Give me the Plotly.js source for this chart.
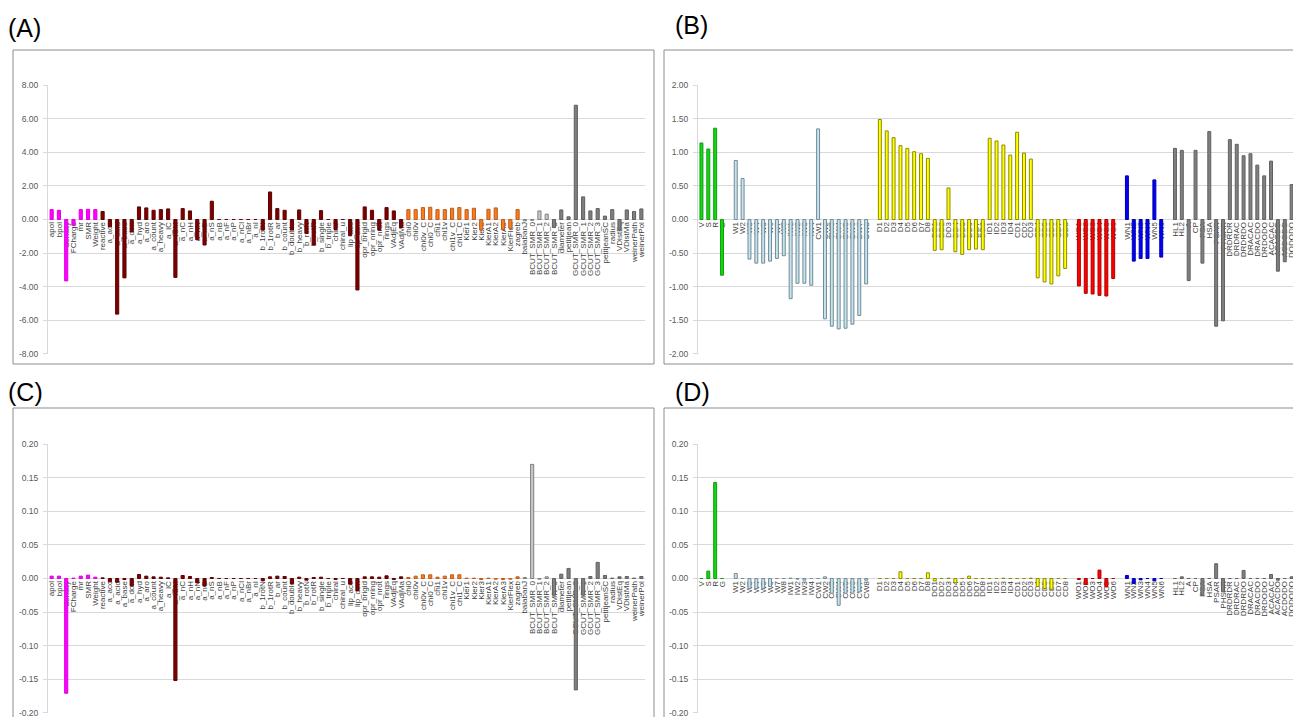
<!DOCTYPE html>
<html><head><meta charset="utf-8">
<script src="https://cdn.plot.ly/plotly-3.0.1.min.js"></script>
<style>html,body{margin:0;padding:0;background:#fff}#chart{width:1293px;height:717px}</style>
</head><body><div id="chart"></div>
<script>
// ---------- Panels A / C : descriptor groups ----------
const catsPhys = ['apol','bpol','density','FCharge','mr','SMR','Weight'];
const catsAtom = ['reactive','a_acc','a_acid','a_base','a_don','a_hyd','a_aro','a_count','a_heavy','a_IC','a_ICM','a_nC','a_nH','a_nN','a_nO','a_nS','a_nB','a_nF','a_nP','a_nCl','a_nBr','a_nI','b_1rotN','b_1rotR','b_ar','b_count','b_double','b_heavy','b_rotN','b_rotR','b_single','b_triple','chiral','chiral_u','lip_acc','lip_don','opr_brigid','opr_nring','opr_nrot','rings','VAdjEq','VAdjMa'];
const catsConn = ['chi0','chi0v','chi0v_C','chi0_C','chi1','chi1v','chi1v_C','chi1_C','Kier1','Kier2','Kier3','KierA1','KierA2','KierA3','KierFlex','zagreb'];
const catsTopoLight = ['balabanJ','BCUT_SMR_0','BCUT_SMR_1','BCUT_SMR_2'];
const catsTopo = ['BCUT_SMR_3','diameter','petitjean','GCUT_SMR_0','GCUT_SMR_1','GCUT_SMR_2','GCUT_SMR_3','petitjeanSC','radius','VDistEq','VDistMa','weinerPath','weinerPol'];

const valsA_phys = [0.59,0.55,-3.66,-0.34,0.59,0.61,0.59];
const valsA_atom = [0.48,-0.44,-5.64,-3.48,-0.73,0.75,0.69,0.55,0.59,0.63,-3.45,0.65,0.51,-1.20,-1.52,1.09,0,0,0,0,0,0,-0.63,1.64,0.65,0.55,-0.63,0.57,-0.83,-1.52,0.53,0,-0.60,0,-0.97,-4.20,0.75,0.55,-0.63,0.71,0.51,-0.48];
const valsA_conn = [0.59,0.59,0.71,0.73,0.59,0.59,0.67,0.71,0.59,0.67,-0.63,0.61,0.69,-0.60,-0.53,0.59];
const valsA_topoLight = [-0.08,-0.05,0.51,0.32];
const valsA_topo = [-0.48,0.57,0.16,6.81,1.35,0.51,0.65,0.20,0.59,-0.60,0.57,0.48,0.63];

const valsC_phys = [0.0035,0.0035,-0.171,0.0005,0.0035,0.005,0.002];
const valsC_atom = [0.001,-0.005,-0.0055,-0.0015,-0.011,0.006,0.0035,0.0025,0.002,0.001,-0.152,0.0045,0.003,-0.0065,-0.0105,0.0015,0,0,0,0,0,0,-0.0035,0.0025,0.0035,0.003,-0.0075,0.002,-0.0025,0.0015,0.002,0,-0.0015,0,-0.0085,-0.018,0.0025,0.0025,0.002,0.004,-0.0015,0.0025];
const valsC_conn = [0.0015,0.0035,0.0055,0.0055,0.002,0.0035,0.0055,0.0055,0.0005,0.0005,-0.0015,0.0005,-0.001,-0.0015,-0.001,0.0025];
const valsC_topoLight = [0.0015,0.17,-0.001,0.0025];
const valsC_topo = [-0.025,0.0065,0.015,-0.166,-0.025,0.003,0.024,0.0045,0.0005,0.0025,0.003,0.0005,0.003];

// ---------- Panels B / D : VolSurf descriptor groups ----------
const catsSize = ['V','S','R','G'];
const catsW = ['W1','W2','W3','W4','W5','W6','W7','W8','IW1','IW2','IW3','IW4','CW1','CW2','CW3','CW4','CW5','CW6','CW7','CW8'];
const catsD = ['D1','D2','D3','D4','D5','D6','D7','D8','DD1','DD2','DD3','DD4','DD5','DD6','DD7','DD8','ID1','ID2','ID3','ID4','CD1','CD2','CD3','CD4','CD5','CD6','CD7','CD8'];
const catsWO = ['WO1','WO2','WO3','WO4','WO5','WO6'];
const catsWN = ['WN1','WN2','WN3','WN4','WN5','WN6'];
const catsOther = ['HL1','HL2','A','CP','PSA','HSA','PSAR','PHSAR','DRDRDR','DRDRAC','DRDRDO','DRACAC','DRACDO','DRDODO','ACACAC','ACACDO','ACDODO','DODODO'];

const valsB_size = [1.14,1.05,1.36,-0.83];
const valsB_W = [0.88,0.61,-0.59,-0.65,-0.65,-0.62,-0.58,-0.54,-1.18,-0.95,-0.95,-0.98,1.35,-1.48,-1.59,-1.63,-1.62,-1.56,-1.43,-0.96];
const valsB_D = [1.49,1.32,1.22,1.10,1.06,1.01,0.98,0.91,-0.46,-0.45,0.47,-0.48,-0.52,-0.45,-0.44,-0.45,1.21,1.17,1.11,0.96,1.30,0.99,0.90,-0.87,-0.93,-0.96,-0.84,-0.73];
const valsB_WO = [-0.99,-1.10,-1.11,-1.13,-1.14,-0.88];
const valsB_WN = [0.65,-0.62,-0.58,-0.58,0.59,-0.56];
const valsB_other = [1.06,1.03,-0.91,1.03,-0.65,1.31,-1.59,-1.51,1.19,1.12,0.95,0.98,0.81,0.65,0.87,-0.77,-0.63,0.52];

const valsD_size = [0,0.011,0.143,0];
const valsD_W = [0.0075,0,-0.015,-0.015,-0.015,-0.012,0,0,0.0005,-0.001,-0.0025,0,0,0.0025,-0.022,-0.04,-0.022,-0.022,-0.02,-0.0025];
const valsD_D = [0,0,0,0.01,0,0,0,0.0085,-0.0035,0,0.0005,-0.0065,0,0.0035,0,0,0,0,0.0005,0,0,0,0.0005,-0.012,-0.015,-0.016,0,0];
const valsD_WO = [-0.0015,-0.009,0,0.0125,-0.0125,0];
const valsD_WN = [0.0045,-0.0075,-0.002,0,-0.0035,0];
const valsD_other = [0,0.0025,0,0,-0.025,0,0.022,-0.02,0,0,0.012,0,0,0,0.006,-0.0025,0,0.0025];

// ---------- styles ----------
const styleAC = [
  {fill:'#FF00FF', line:'#E000E0'},
  {fill:'#7B0000', line:'#600000'},
  {fill:'#F57C25', line:'#C55A11'},
  {fill:'#C8C8C8', line:'#7F7F7F'},
  {fill:'#7F7F7F', line:'#5F5F5F'}
];
const styleBD = [
  {fill:'#11D811', line:'#0E9E0E'},
  {fill:'#C9E3EC', line:'#6F8C99'},
  {fill:'#FFFF00', line:'#8C8C00'},
  {fill:'#FF0000', line:'#B00000'},
  {fill:'#0000FF', line:'#0000AA'},
  {fill:'#808080', line:'#606060'}
];

const W = 1293, H = 717;
const groupsAC = [catsPhys, catsAtom, catsConn, catsTopoLight, catsTopo];
const groupsBD = [catsSize, catsW, catsD, catsWO, catsWN, catsOther];

function layoutGroups(groups, gap){
  let pos = 0; const xs = []; const tv = []; const tt = [];
  groups.forEach((g, gi) => {
    if (gi > 0) pos += gap;
    const arr = [];
    g.forEach(c => { arr.push(pos); tv.push(pos); tt.push(c); pos++; });
    xs.push(arr);
  });
  return {xs, tv, tt};
}

const LAC = layoutGroups(groupsAC, 0);
const LBD = layoutGroups(groupsBD, 1);

const traces = [];
function addTraces(L, valsList, styles, xa, ya, bw){
  valsList.forEach((vals, i) => {
    traces.push({
      type:'bar', x: L.xs[i], y: vals, xaxis: xa, yaxis: ya, width: bw,
      marker:{color: styles[i].fill, line:{color: styles[i].line, width: 1}},
      hoverinfo:'y', showlegend:false
    });
  });
}
addTraces(LAC, [valsA_phys, valsA_atom, valsA_conn, valsA_topoLight, valsA_topo], styleAC, 'x', 'y', 0.43);
addTraces(LBD, [valsB_size, valsB_W, valsB_D, valsB_WO, valsB_WN, valsB_other], styleBD, 'x2', 'y2', 0.43);
addTraces(LAC, [valsC_phys, valsC_atom, valsC_conn, valsC_topoLight, valsC_topo], styleAC, 'x3', 'y3', 0.43);
addTraces(LBD, [valsD_size, valsD_W, valsD_D, valsD_WO, valsD_WN, valsD_other], styleBD, 'x4', 'y4', 0.43);

function ydom(top, bottom){ return [1 - bottom/H, 1 - top/H]; }
function xdom(l, r){ return [l/W, Math.min(1, r/W)]; }

function yAxis(domain, lim, step, anchor){
  const tv = [], tt = [];
  const n = Math.round(2*lim/step);
  for (let i=0;i<=n;i++){ const v = -lim + i*step; tv.push(+v.toFixed(6)); tt.push((Math.abs(v)<1e-9?0:v).toFixed(2)); }
  const pad = lim*0.002;
  return {domain, range:[-lim-pad, lim+pad], anchor, tickmode:'array', tickvals:tv, ticktext:tt,
    showline:true, linecolor:'#D9D9D9', linewidth:1, ticks:'outside', ticklen:4, tickcolor:'#D9D9D9',
    showgrid:true, gridcolor:'#D9D9D9', gridwidth:1, zeroline:true, zerolinecolor:'#D9D9D9', zerolinewidth:1,
    tickfont:{family:'Liberation Sans, Arial, sans-serif', size:8.5, color:'#595959'}, ticklabelstandoff:3,
    ticklabeloverflow:'allow', fixedrange:true};
}
function xAxis(domain, range, L, ydomain){
  const zero = (ydomain[0]+ydomain[1])/2;
  return {domain, range, anchor:'free', position: zero, type:'linear', tickmode:'array',
    tickvals:L.tv, ticktext:L.tt, tickangle:-90, ticks:'', showgrid:false, zeroline:false, showline:false,
    layer:'below traces', ticklabeloverflow:'allow',
    tickfont:{family:'Liberation Sans, Arial, sans-serif', size:8, color:'#404040'},
    fixedrange:true};
}

const ydTop = ydom(85, 354), ydBot = ydom(444, 713);
const xdL = xdom(48, 645), xdR = xdom(698, 1293);
const rangeAC = [-0.5, 81.5];
const rangeBD = [-0.5, 86.2];

const frame = (x0,x1,y0,y1) => ({type:'rect', xref:'paper', yref:'paper', x0:x0/W, x1:x1/W, y0:1-y1/H, y1:1-y0/H,
  line:{color:'#8C8C8C', width:1}, fillcolor:'rgba(0,0,0,0)', layer:'below'});

const letter = (t, x, y) => ({text:t, xref:'paper', yref:'paper', x:x/W, y:1-y/H, xanchor:'left', yanchor:'middle',
  showarrow:false, font:{family:'Liberation Sans, Arial, sans-serif', size:25, color:'#000'}});

const layout = {
  width:W, height:H, margin:{l:0,r:0,t:0,b:0}, paper_bgcolor:'#fff', plot_bgcolor:'rgba(0,0,0,0)',
  barmode:'overlay', showlegend:false,
  xaxis: xAxis(xdL, rangeAC, LAC, ydTop),
  yaxis: yAxis(ydTop, 8, 2, 'x'),
  xaxis2: xAxis(xdR, rangeBD, LBD, ydTop),
  yaxis2: yAxis(ydTop, 2, 0.5, 'x2'),
  xaxis3: xAxis(xdL, rangeAC, LAC, ydBot),
  yaxis3: yAxis(ydBot, 0.2, 0.05, 'x3'),
  xaxis4: xAxis(xdR, rangeBD, LBD, ydBot),
  yaxis4: yAxis(ydBot, 0.2, 0.05, 'x4'),
  shapes:[ frame(13,654,50,364), frame(664,1310,50,364), frame(13,654,408,740), frame(664,1310,408,740) ],
  annotations:[ letter('(A)', 6, 28), letter('(B)', 673, 25), letter('(C)', 6, 392), letter('(D)', 673, 392) ]
};

Plotly.newPlot('chart', traces, layout, {staticPlot:true, displayModeBar:false});
</script>
</body></html>
